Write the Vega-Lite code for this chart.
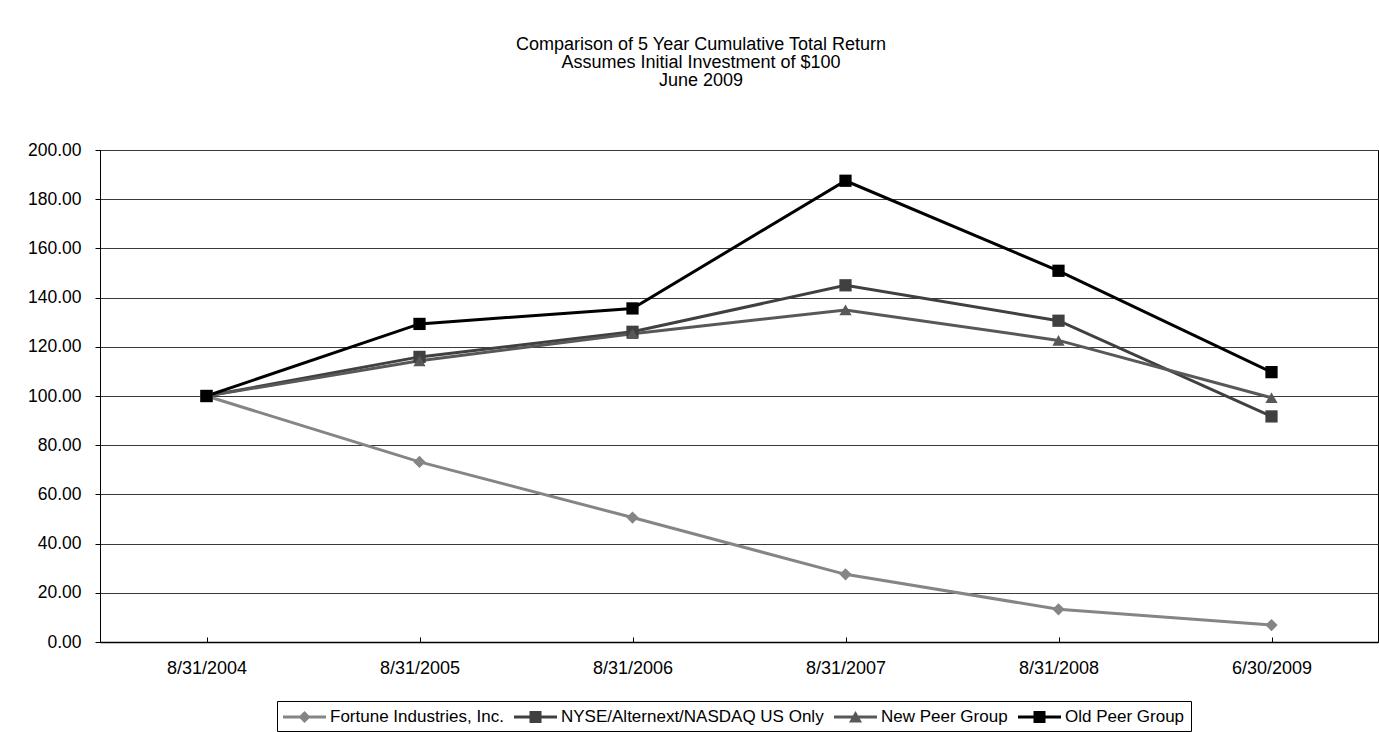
{
  "$schema": "https://vega.github.io/schema/vega-lite/v6.json",
  "width": 1278,
  "height": 492,
  "autosize": {"type": "none"},
  "padding": {"left": 100, "top": 150, "right": 1, "bottom": 90},
  "background": "white",
  "title": {
    "text": ["Comparison of 5 Year Cumulative Total Return", "Assumes Initial Investment of $100", "June 2009"],
    "font": "Liberation Sans",
    "fontSize": 18,
    "fontWeight": "normal",
    "color": "black",
    "lineHeight": 18,
    "anchor": "middle",
    "baseline": "bottom",
    "offset": 33,
    "dx": -38
  },
  "config": {
    "font": "Liberation Sans",
    "view": {"stroke": "black", "strokeWidth": 1},
    "axis": {"labelFont": "Liberation Sans", "labelColor": "black", "domainColor": "black", "tickColor": "black", "title": null}
  },
  "data": {
    "values": [
      {"date": "8/31/2004", "series": "Fortune Industries, Inc.", "value": 100},
      {"date": "8/31/2005", "series": "Fortune Industries, Inc.", "value": 73.2},
      {"date": "8/31/2006", "series": "Fortune Industries, Inc.", "value": 50.6},
      {"date": "8/31/2007", "series": "Fortune Industries, Inc.", "value": 27.5},
      {"date": "8/31/2008", "series": "Fortune Industries, Inc.", "value": 13.3},
      {"date": "6/30/2009", "series": "Fortune Industries, Inc.", "value": 6.9},
      {"date": "8/31/2004", "series": "NYSE/Alternext/NASDAQ US Only", "value": 100},
      {"date": "8/31/2005", "series": "NYSE/Alternext/NASDAQ US Only", "value": 115.9},
      {"date": "8/31/2006", "series": "NYSE/Alternext/NASDAQ US Only", "value": 126.1},
      {"date": "8/31/2007", "series": "NYSE/Alternext/NASDAQ US Only", "value": 145.0},
      {"date": "8/31/2008", "series": "NYSE/Alternext/NASDAQ US Only", "value": 130.6},
      {"date": "6/30/2009", "series": "NYSE/Alternext/NASDAQ US Only", "value": 91.7},
      {"date": "8/31/2004", "series": "New Peer Group", "value": 100},
      {"date": "8/31/2005", "series": "New Peer Group", "value": 114.3},
      {"date": "8/31/2006", "series": "New Peer Group", "value": 125.3},
      {"date": "8/31/2007", "series": "New Peer Group", "value": 135.0},
      {"date": "8/31/2008", "series": "New Peer Group", "value": 122.6},
      {"date": "6/30/2009", "series": "New Peer Group", "value": 99.3},
      {"date": "8/31/2004", "series": "Old Peer Group", "value": 100},
      {"date": "8/31/2005", "series": "Old Peer Group", "value": 129.3},
      {"date": "8/31/2006", "series": "Old Peer Group", "value": 135.6},
      {"date": "8/31/2007", "series": "Old Peer Group", "value": 187.5},
      {"date": "8/31/2008", "series": "Old Peer Group", "value": 150.9},
      {"date": "6/30/2009", "series": "Old Peer Group", "value": 109.7}
    ]
  },
  "encoding": {
    "x": {
      "field": "date",
      "type": "ordinal",
      "sort": ["8/31/2004", "8/31/2005", "8/31/2006", "8/31/2007", "8/31/2008", "6/30/2009"],
      "scale": {"type": "point", "padding": 0.5},
      "axis": {"labelAngle": 0, "ticks": true, "tickSize": -5, "labelPadding": 22, "labelFontSize": 18, "domainWidth": 1.5, "grid": false}
    },
    "y": {
      "field": "value",
      "type": "quantitative",
      "scale": {"domain": [0, 200], "nice": false, "zero": true},
      "axis": {
        "values": [0, 20, 40, 60, 80, 100, 120, 140, 160, 180, 200],
        "format": ".2f",
        "grid": true,
        "gridColor": "#3a3a3a",
        "gridWidth": 1,
        "tickSize": 5,
        "labelPadding": 14,
        "labelFontSize": 17.5
      }
    },
    "color": {
      "field": "series",
      "type": "nominal",
      "sort": ["Fortune Industries, Inc.", "NYSE/Alternext/NASDAQ US Only", "New Peer Group", "Old Peer Group"],
      "scale": {
        "domain": ["Fortune Industries, Inc.", "NYSE/Alternext/NASDAQ US Only", "New Peer Group", "Old Peer Group"],
        "range": ["#858585", "#404040", "#585858", "#000000"]
      },
      "legend": {
        "orient": "none",
        "legendX": 177,
        "legendY": 551,
        "direction": "horizontal",
        "columns": 4,
        "columnPadding": 10,
        "title": null,
        "labelFont": "Liberation Sans",
        "labelFontSize": 17,
        "labelColor": "black",
        "labelLimit": 0,
        "labelOffset": 27,
        "symbolSize": 400,
        "strokeColor": "black",
        "padding": 6,
        "fillColor": "white",
        "encode": {
          "symbols": {
            "update": {
              "shape": {"signal": "datum.value === 'Fortune Industries, Inc.' ? 'M-1,-0.15H3.3V0.15H-1Z M1.15,-0.6L1.75,0L1.15,0.6L0.55,0Z' : datum.value === 'New Peer Group' ? 'M-1,-0.15H3.3V0.15H-1Z M1.15,-0.6L1.8,0.55H0.5Z' : 'M-1,-0.15H3.3V0.15H-1Z M0.55,-0.6H1.75V0.6H0.55Z'"},
              "fill": {"scale": "color", "field": "value"},
              "strokeWidth": {"value": 0},
              "opacity": {"value": 1}
            },
            "shape": {"value": {"expr": "datum.value === 'Fortune Industries, Inc.' ? 'M-1,-0.15H3.3V0.15H-1Z M1.15,-0.6L1.75,0L1.15,0.6L0.55,0Z' : datum.value === 'New Peer Group' ? 'M-1,-0.15H3.3V0.15H-1Z M1.15,-0.6L1.8,0.55H0.5Z' : 'M-1,-0.15H3.3V0.15H-1Z M0.55,-0.6H1.75V0.6H0.55Z'"}},
            "fill": {"value": {"expr": "scale('color', datum.value)"}},
            "strokeWidth": {"value": 0},
            "opacity": {"value": 1}
          }
        }
      }
    }
  },
  "layer": [
    {
      "mark": {"type": "line", "strokeWidth": 3}
    },
    {
      "mark": {
        "type": "point",
        "filled": true,
        "opacity": 1,
        "size": 150,
        "shape": {"expr": "datum.series === 'Fortune Industries, Inc.' ? 'diamond' : datum.series === 'New Peer Group' ? 'triangle-up' : 'square'"}
      }
    }
  ]
}
